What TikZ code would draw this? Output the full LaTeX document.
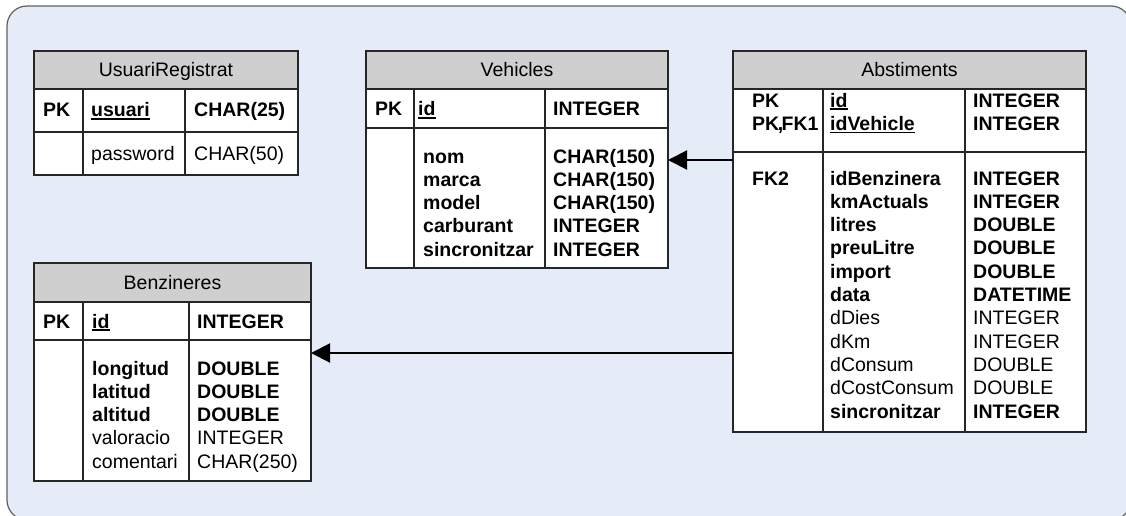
\documentclass[tikz,border=0pt]{standalone}
\usepackage{fontspec}
\setmainfont{Liberation Sans}
\usetikzlibrary{arrows.meta}
\definecolor{fons}{RGB}{229,236,247}
\definecolor{capcal}{RGB}{207,207,207}
\definecolor{vora}{RGB}{95,95,95}
\newcommand\mida{\fontsize{19.5}{23.3}\selectfont}
\newcommand\clau[1]{\setbox0\hbox{#1}\rlap{\rule[-3pt]{\wd0}{1.6pt}}\box0}
\tikzset{
  taula/.style={draw=black!85, line width=1.3pt, fill=white, inner sep=0pt, outer sep=0pt},
  capsal/.style={taula, fill=capcal},
  txt/.style={anchor=base west, inner sep=0pt, align=left},
  fk/.style={line width=2pt, -{Triangle[length=19pt,width=19pt]}}
}

\begin{document}
\begin{tikzpicture}[x=1pt,y=-1pt,font=\mida]
\useasboundingbox (0,0) rectangle (1126,516);
\clip (0,0) rectangle (1126,516);
\draw [vora, line width=1.2pt, fill=fons, rounded corners=20pt] (7,6) rectangle (1131,520);

% UsuariRegistrat
\node [capsal, minimum width=264pt, minimum height=38pt] (usrhead) at (166,70) {};
\node [taula, minimum width=264pt, minimum height=43pt] (usrkey) at (166,110.5) {};
\node [taula, minimum width=264pt, minimum height=43pt] (usrbody) at (166,153.5) {};
\draw [taula] (83,89)--(83,175);
\draw [taula] (185,89)--(185,175);
\node [anchor=base, inner sep=0pt] (usrtitle) at (166,77) {UsuariRegistrat};
\node [txt] (usrpk) at (43,117) {\textbf{PK}};
\node [txt] (usrid) at (91,117) {\clau{\textbf{usuari}}};
\node [txt] (usrtype) at (194,117) {\textbf{CHAR(25)}};
\node [txt] (usrnames) at (91,160) {password};
\node [txt] (usrtypes) at (194,160) {CHAR(50)};

% Vehicles
\node [capsal, minimum width=302pt, minimum height=38pt] (vehhead) at (517,70) {};
\node [taula, minimum width=302pt, minimum height=39pt] (vehkey) at (517,108.5) {};
\node [taula, minimum width=302pt, minimum height=140pt] (vehbody) at (517,198) {};
\draw [taula] (414,89)--(414,268);
\draw [taula] (545,89)--(545,268);
\node [anchor=base, inner sep=0pt] (vehtitle) at (517,77) {Vehicles};
\node [txt] (vehpk) at (375,116) {\textbf{PK}};
\node [txt] (vehid) at (418,116) {\clau{\textbf{id}}};
\node [txt] (vehtype) at (553,116) {\textbf{INTEGER}};
% base = last line
\node [txt, font=\mida\bfseries] (vehnames) at (423,{163+4*23.3}) {nom\\marca\\model\\carburant\\sincronitzar};
\node [txt, font=\mida\bfseries] (vehtypes) at (553,{163+4*23.3}) {CHAR(150)\\CHAR(150)\\CHAR(150)\\INTEGER\\INTEGER};

% Abstiments
\node [capsal, minimum width=353pt, minimum height=38pt] (abshead) at (909.5,70) {};
\node [taula, minimum width=353pt, minimum height=63pt] (abskey) at (909.5,120.5) {};
\node [taula, minimum width=353pt, minimum height=280pt] (absbody) at (909.5,292) {};
\draw [taula] (823,89)--(823,432);
\draw [taula] (965,89)--(965,432);
\node [anchor=base, inner sep=0pt] (abstitle) at (909.5,77) {Abstiments};
\node [txt, font=\mida\bfseries] (abspk) at (752,{107+23.3}) {PK\\PK\kern-1.5pt,\kern-1.5pt FK1};
\node [txt, font=\mida\bfseries] (absid) at (830,{107+23.3}) {\clau{id}\\\clau{idVehicle}};
\node [txt, font=\mida\bfseries] (abstype) at (973,{107+23.3}) {INTEGER\\INTEGER};
\node [txt, font=\mida\bfseries] (absfk) at (752,185) {FK2};
\node [txt] (absnames) at (830,{185+10*23.3}) {\textbf{idBenzinera}\\\textbf{kmActuals}\\\textbf{litres}\\\textbf{preuLitre}\\\textbf{import}\\\textbf{data}\\dDies\\dKm\\dConsum\\dCostConsum\\\textbf{sincronitzar}};
\node [txt] (abstypes) at (973,{185+10*23.3}) {\textbf{INTEGER}\\\textbf{INTEGER}\\\textbf{DOUBLE}\\\textbf{DOUBLE}\\\textbf{DOUBLE}\\\textbf{DATETIME}\\INTEGER\\INTEGER\\DOUBLE\\DOUBLE\\\textbf{INTEGER}};

% Benzineres
\node [capsal, minimum width=277pt, minimum height=39pt] (benhead) at (172.5,282.5) {};
\node [taula, minimum width=277pt, minimum height=38pt] (benkey) at (172.5,321) {};
\node [taula, minimum width=277pt, minimum height=141pt] (benbody) at (172.5,410.5) {};
\draw [taula] (83,302)--(83,481);
\draw [taula] (189,302)--(189,481);
\node [anchor=base, inner sep=0pt] (bentitle) at (172.5,289) {Benzineres};
\node [txt] (benpk) at (43,328) {\textbf{PK}};
\node [txt] (benid) at (92,328) {\clau{\textbf{id}}};
\node [txt] (bentype) at (197,328) {\textbf{INTEGER}};
\node [txt] (bennames) at (92,{375+4*23.3}) {\textbf{longitud}\\\textbf{latitud}\\\textbf{altitud}\\valoracio\\comentari};
\node [txt] (bentypes) at (197,{375+4*23.3}) {\textbf{DOUBLE}\\\textbf{DOUBLE}\\\textbf{DOUBLE}\\INTEGER\\CHAR(250)};

% claus foranes
\coordinate (fkveh) at (733,160);
\coordinate (fkben) at (733,353);
\draw [fk] (fkveh) -- (fkveh -| vehbody.east);
\draw [fk] (fkben) -- (fkben -| benbody.east);

\end{tikzpicture}
\end{document}
